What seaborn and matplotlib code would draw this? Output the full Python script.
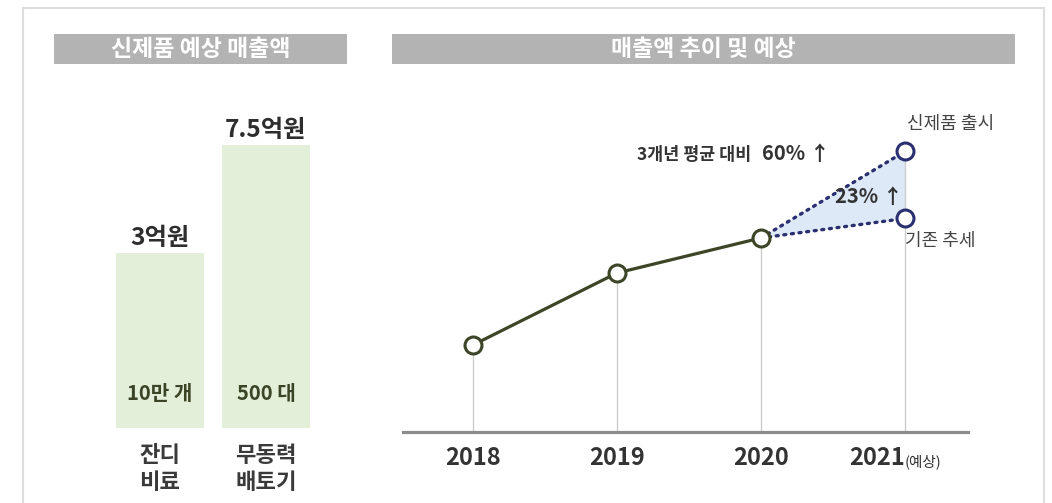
import numpy as np
import matplotlib
matplotlib.use("Agg")
import matplotlib.pyplot as plt
import seaborn as sns
from matplotlib.patches import Rectangle

# 신제품 예상 매출액 (억원)
products = ["잔디\n비료", "무동력\n배토기"]
product_sales = [3.0, 7.5]
sales_labels = ["3억원", "7.5억원"]
unit_labels = ["10만 개", "500 대"]

# 매출액 추이 및 예상 (억원)
years = ["2018", "2019", "2020", "2021"]
actual_sales = [1.68, 2.42, 2.78]
forecast_trend = 2.98   # 기존 추세
forecast_new = 3.67     # 신제품 출시

sns.set_theme(style="white")
plt.rcParams["font.family"] = ["Noto Sans CJK KR", "DejaVu Sans"]

W, H = 1052, 503
PT = 0.72  # points per pixel at 100 dpi
fig = plt.figure(figsize=(W / 100, H / 100), dpi=100)
fig.patch.set_facecolor("white")


def box(l, t, r, b):
    return [l / W, 1 - b / H, (r - l) / W, (b - t) / H]


# outer frame
fig.patches.append(Rectangle((23 / W, -0.1), (1044 - 23) / W, 1.1 - 8 / H,
                             transform=fig.transFigure, fill=False,
                             ec="#dedede", lw=1.5))


def title_bar(rect, text):
    a = fig.add_axes(rect)
    a.set_facecolor("#b3b3b3")
    a.set_xticks([])
    a.set_yticks([])
    for s in a.spines.values():
        s.set_visible(False)
    a.text(0.5, 0.5, text, ha="center", va="center", color="white",
           fontsize=16.5, fontweight="bold", transform=a.transAxes)


title_bar(box(54, 34, 347, 64), "신제품 예상 매출액")
title_bar(box(392, 34, 1015, 64), "매출액 추이 및 예상")

# ---- left: product bars ----
bar_green = "#e4efd9"
axl = fig.add_axes(box(107, 90, 319, 428))
sns.barplot(x=products, y=product_sales, ax=axl, color=bar_green,
            saturation=1, width=0.83, linewidth=0)
axl.set_yscale("log")
axl.set_ylim(0.681, 11.95)
axl.set_xlim(-0.5, 1.5)
for s in axl.spines.values():
    s.set_visible(False)
axl.tick_params(axis="y", which="both", left=False, labelleft=False)
axl.tick_params(axis="x", length=0, pad=16 * PT, labelsize=16,
                labelcolor="#3a3a3a")
for lbl in axl.get_xticklabels():
    lbl.set_fontweight("bold")
    lbl.set_linespacing(1.2)
axl.set_xlabel("")
axl.set_ylabel("")

for i, (v, lab, unit) in enumerate(zip(product_sales, sales_labels, unit_labels)):
    axl.annotate(lab, xy=(i, v), xytext=(0, 15 * PT), textcoords="offset points",
                 ha="center", va="center", fontsize=17.5, fontweight="bold",
                 color="#2e2e2e")
    axl.annotate(unit, xy=(i, 0), xycoords=axl.get_xaxis_transform(),
                 xytext=(0, 35 * PT), textcoords="offset points",
                 ha="center", va="center", fontsize=14.5, fontweight="bold",
                 color="#3c4427")

# ---- right: sales trend ----
olive = "#3d4526"
navy = "#2a2f6f"
axr = fig.add_axes(box(403, 90, 968, 432))
x_idx = np.arange(len(years))
y_bottom, y_top = 0.786, 4.30

# shaded gap between the two 2021 scenarios
axr.fill([x_idx[2], x_idx[3], x_idx[3]],
         [actual_sales[2], forecast_new, forecast_trend],
         color="#dde9f7", lw=0, zorder=1)

# drop lines to the baseline
tops = actual_sales + [forecast_new]
axr.vlines(x_idx, y_bottom, tops, color="#cccccc", lw=1, zorder=2)

# dotted projections
for target in (forecast_new, forecast_trend):
    sns.lineplot(x=[x_idx[2], x_idx[3]], y=[actual_sales[2], target], ax=axr,
                 color=navy, lw=2.4, linestyle=(0, (0.6, 1.7)),
                 dash_capstyle="round", zorder=3)

# actual sales
sns.lineplot(x=x_idx[:3], y=actual_sales, ax=axr, color=olive, lw=2.3,
             marker="o", markersize=12.2, markerfacecolor="white",
             markeredgecolor=olive, markeredgewidth=2.2, zorder=5)

# forecast points
sns.scatterplot(x=[x_idx[3], x_idx[3]], y=[forecast_new, forecast_trend],
                ax=axr, s=12.2 ** 2, color="white", edgecolor=navy,
                linewidth=2.2, zorder=6)

axr.set_xlim(-0.486, 3.437)
axr.set_ylim(y_bottom, y_top)
for name, s in axr.spines.items():
    s.set_visible(name == "bottom")
axr.spines["bottom"].set_color("#8c8c8c")
axr.spines["bottom"].set_linewidth(2.3)
axr.set_yticks([])
axr.set_xticks(x_idx)
axr.set_xticklabels(years)
axr.tick_params(axis="x", length=0, pad=14 * PT, labelsize=17,
                labelcolor="#333333")
for lbl in axr.get_xticklabels():
    lbl.set_fontweight("bold")
axr.get_xticklabels()[3].set_ha("right")
axr.set_xlabel("")
axr.set_ylabel("")

axr.annotate("(예상)", xy=(x_idx[3], 0), xycoords=axr.get_xaxis_transform(),
             xytext=(0, -34 * PT), textcoords="offset points", ha="left",
             va="baseline", fontsize=10.5, color="#333333")

axr.annotate("60% ↑", xy=(x_idx[3], forecast_new), xytext=(-75 * PT, -9 * PT),
             textcoords="offset points", ha="right", va="baseline",
             fontsize=14.5, fontweight="bold", color="#333333")
axr.annotate("3개년 평균 대비", xy=(x_idx[3], forecast_new),
             xytext=(-154 * PT, -9 * PT), textcoords="offset points",
             ha="right", va="baseline", fontsize=12.5, fontweight="bold",
             color="#333333")
axr.annotate("23% ↑", xy=(x_idx[3], forecast_new), xytext=(-2 * PT, -52 * PT),
             textcoords="offset points", ha="right", va="baseline",
             fontsize=14.5, fontweight="bold", color="#333333", zorder=7)
axr.annotate("신제품 출시", xy=(x_idx[3], forecast_new), xytext=(2 * PT, 27 * PT),
             textcoords="offset points", ha="left", va="center",
             fontsize=13, style="italic", color="#444444")
axr.annotate("기존 추세", xy=(x_idx[3], forecast_trend), xytext=(0, -22 * PT),
             textcoords="offset points", ha="left", va="center",
             fontsize=13, style="italic", color="#444444")

fig.savefig("out.png", dpi=100, facecolor="white")
